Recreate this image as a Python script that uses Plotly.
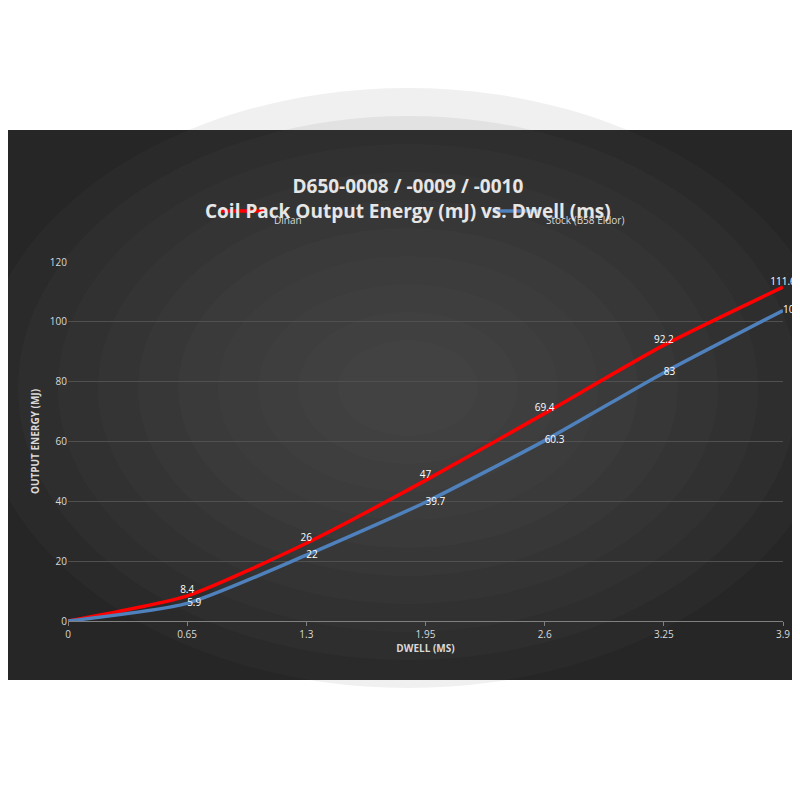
import plotly.graph_objects as go

dwell = [0, 0.65, 1.3, 1.95, 2.6, 3.25, 3.9]
dinan = [0, 8.4, 26, 47, 69.4, 92.2, 111.6]
stock = [0, 5.9, 22, 39.7, 60.3, 83, 103.8]
dinan_lbl = ["", "8.4", "26", "47", "69.4", "92.2", "111.6"]
stock_lbl = ["", "5.9", "22", "39.7", "60.3", "83", "103.8"]

fig = go.Figure()
fig.add_trace(go.Scatter(x=dwell, y=dinan, mode="lines+text", name="Dinan", cliponaxis=False,
    line=dict(color="#ff0000", width=3.5, shape="spline", smoothing=0.6),
    text=dinan_lbl, textposition="top center", textfont=dict(color="white", size=10)))
fig.add_trace(go.Scatter(x=dwell, y=stock, mode="lines+text", name="Stock (B58 Eldor)", cliponaxis=False,
    line=dict(color="#4f81bd", width=3.5, shape="spline", smoothing=0.6),
    text=stock_lbl, textposition="middle right", textfont=dict(color="white", size=10)))

H = 359.0
def py(p):
    return (613 - p) / H
def px(p):
    return (p - 60) / 715.0

shapes = [dict(type="rect", xref="paper", yref="paper", x0=px(0), x1=px(800),
               y0=py(672), y1=py(122), fillcolor="#262626", line_width=0, layer="below")]
for i in range(10):
    rx = 430 - i * 40
    ry = 300 - i * 28
    shapes.append(dict(type="circle", xref="paper", yref="paper",
                       x0=px(400 - rx), x1=px(400 + rx), y0=py(380 + ry), y1=py(380 - ry),
                       fillcolor="#5c5c5c", opacity=0.09, line_width=0, layer="below"))
# manual legend
shapes.append(dict(type="line", xref="paper", yref="paper", x0=px(213), x1=px(260),
                   y0=py(203), y1=py(203), line=dict(color="#ff0000", width=3.5)))
shapes.append(dict(type="line", xref="paper", yref="paper", x0=px(485), x1=px(532),
                   y0=py(203), y1=py(203), line=dict(color="#4f81bd", width=3.5)))

fig.update_layout(
    width=800, height=800, paper_bgcolor="white", plot_bgcolor="rgba(0,0,0,0)",
    margin=dict(l=60, r=25, t=254, b=187), shapes=shapes, showlegend=False,
    font=dict(family="Open Sans, Liberation Sans, sans-serif", color="#d9d9d9"),
    annotations=[
        dict(text="<b>D650-0008 / -0009 / -0010<br>Coil Pack Output Energy (mJ) vs. Dwell (ms)</b>",
             xref="paper", yref="paper", x=px(400), y=py(163), showarrow=False,
             font=dict(size=19, color="#e6e6e6")),
        dict(text="Dinan", xref="paper", yref="paper", x=px(264), y=py(203), xanchor="left",
             showarrow=False, font=dict(size=10, color="#d9d9d9")),
        dict(text="Stock (B58 Eldor)", xref="paper", yref="paper", x=px(536), y=py(203), xanchor="left",
             showarrow=False, font=dict(size=10, color="#d9d9d9")),
    ],
    xaxis=dict(range=[0, 3.9], tickvals=dwell, ticktext=["0", "0.65", "1.3", "1.95", "2.6", "3.25", "3.9"],
               showgrid=False, zeroline=False, showline=True, linecolor="#808080", automargin=False,
               ticks="outside", tickcolor="#808080", ticklen=4, tickfont=dict(size=10, color="#d9d9d9"),
               title=dict(text="<b>DWELL (MS)</b>", font=dict(size=10, color="#d9d9d9"), standoff=4)),
    yaxis=dict(range=[0, 120], dtick=20, gridcolor="#505050", zeroline=False, automargin=False,
               tickfont=dict(size=10, color="#d9d9d9"),
               title=dict(text="<b>OUTPUT ENERGY (MJ)</b>", font=dict(size=10, color="#d9d9d9"), standoff=8)),
)
fig.write_html("out.html")
